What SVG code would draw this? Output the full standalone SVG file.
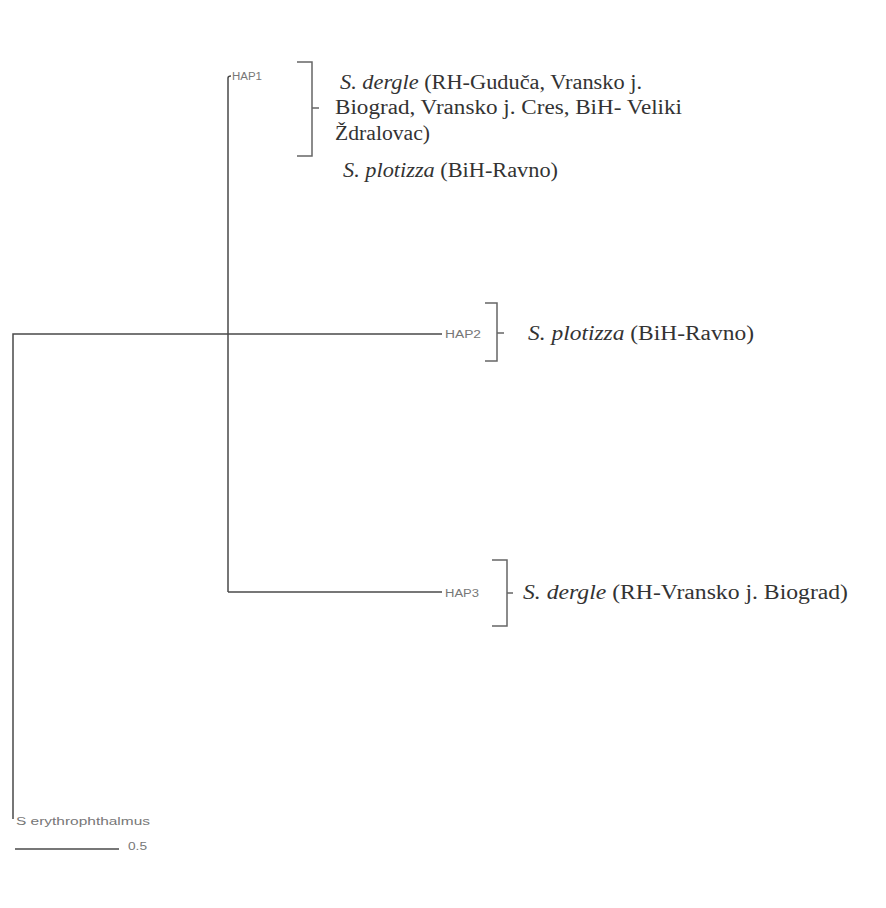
<svg xmlns="http://www.w3.org/2000/svg" width="886" height="908" viewBox="0 0 886 908">
<style>
.ln{stroke:#4a4a4a;stroke-width:1.5;fill:none}
.br{stroke:#666;stroke-width:1.5;fill:none}
.hap{font-family:"Liberation Sans",Arial,sans-serif;font-size:10px;fill:#777}
.tx{font-family:"Liberation Serif","Times New Roman",serif;font-size:20px;fill:#333}
.it{font-style:italic}
</style>
<rect width="886" height="908" fill="#fff"/>
<g id="connectors">
<path class="ln" d="M13,819 V334 H442"/>
<path class="ln" d="M228,592 V78 Q228,76 231,76"/>
<path class="ln" d="M228,592 H442"/>
</g>
<g id="hap1">
<text class="hap" x="232" y="80" textLength="30" lengthAdjust="spacingAndGlyphs">HAP1</text>
<path class="br" d="M297,62 H312 V156 H297 M312,108 H319"/>
<text class="tx" x="340" y="89" textLength="302" lengthAdjust="spacingAndGlyphs"><tspan class="it">S. dergle</tspan> (RH-Guduča, Vransko j.</text>
<text class="tx" x="335" y="114" textLength="347" lengthAdjust="spacingAndGlyphs">Biograd, Vransko j. Cres, BiH-  Veliki</text>
<text class="tx" x="335" y="140" textLength="95" lengthAdjust="spacingAndGlyphs">Ždralovac)</text>
<text class="tx" x="343" y="177" textLength="215" lengthAdjust="spacingAndGlyphs"><tspan class="it">S. plotizza</tspan> (BiH-Ravno)</text>
</g>
<g id="hap2">
<text class="hap" x="445" y="338" textLength="36" lengthAdjust="spacingAndGlyphs">HAP2</text>
<path class="br" d="M485,303 H497 V361 H485 M497,333 H504"/>
<text class="tx" x="528" y="340" textLength="226" lengthAdjust="spacingAndGlyphs"><tspan class="it">S. plotizza</tspan> (BiH-Ravno)</text>
</g>
<g id="hap3">
<text class="hap" x="445" y="597" textLength="34" lengthAdjust="spacingAndGlyphs">HAP3</text>
<path class="br" d="M492,560 H507 V626 H492 M507,593 H513"/>
<text class="tx" x="523" y="599" textLength="325" lengthAdjust="spacingAndGlyphs"><tspan class="it">S. dergle</tspan> (RH-Vransko j. Biograd)</text>
</g>
<g id="outgroup">
<text class="hap" x="16" y="825" textLength="134" lengthAdjust="spacingAndGlyphs">S erythrophthalmus</text>
</g>
<g id="scale">
<path class="ln" d="M15,849 H119"/>
<text class="hap" x="128" y="850" textLength="19" lengthAdjust="spacingAndGlyphs">0.5</text>
</g>
</svg>
